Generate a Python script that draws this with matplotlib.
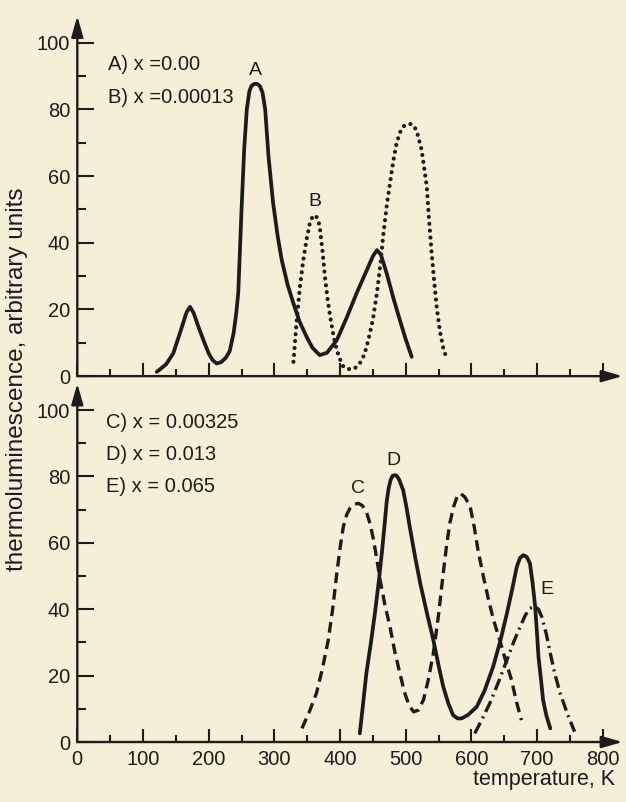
import matplotlib
matplotlib.use("Agg")
import matplotlib.pyplot as plt
from matplotlib.ticker import MultipleLocator

plt.rcParams['font.family'] = ['Liberation Sans', 'DejaVu Sans']

# ---- data (temperature K, TL arbitrary units) ----
A_T = [121, 135, 146, 158, 166, 171.5, 177, 184, 192, 200, 206, 212, 219, 226, 232, 238, 242, 245, 247, 250,
       254, 258, 262, 265, 268, 271, 274, 278, 282, 286, 291, 298, 305, 311, 320, 329, 338, 349, 358, 369, 380, 395,
       410, 425, 440, 450, 456, 462, 471, 481, 491, 500, 509]
A_I = [1.3, 3.5, 6.8, 14, 19, 20.8, 19, 15, 10.8, 6.8, 4.8, 3.8, 4.2, 5.5, 7.5, 13, 19, 25, 35, 50,
       68, 80, 85.5, 87, 87.5, 87.7, 87.6, 87, 85, 80, 66, 52, 42, 35, 27.5, 21.8, 16.5, 11.8, 8.5, 6.3, 7, 10.8,
       17.5, 24.8, 31.5, 36, 37.8, 36.5, 30.8, 23.5, 16.8, 11, 5.8]

B_T = [329, 334, 339, 344, 349, 354, 358, 362, 366, 369, 373, 377, 381, 385, 390, 395, 400, 405, 411, 418,
       424, 430, 437, 443, 450, 456, 461, 466, 471, 476, 481, 486, 492, 498, 503, 508, 513, 518, 524, 528,
       532, 535, 539, 543, 547, 552, 557, 562]
B_I = [4.3, 16.8, 27, 34.8, 41, 45.9, 47.8, 48.3, 47.2, 44.8, 38, 29.8, 23, 17.8, 12, 7.8, 5, 2.8, 2.2, 2,
       2.6, 3.8, 6.5, 10.8, 17, 24.8, 33, 42.8, 51, 57.9, 64.5, 69.9, 73.5, 75.2, 75.6, 75.6, 75, 72.5, 67.9, 62.5,
       56.8, 48, 37.8, 29, 20.8, 13.5, 8.5, 5.3]

C_T = [342, 353, 364, 373, 382, 389, 395, 400, 405, 410, 415, 421, 428, 434, 440, 446, 451, 456, 461, 468,
       476, 483, 491, 498, 505, 512, 519, 527, 534, 542, 550, 557, 562, 567, 573, 578, 583, 590, 598, 604,
       610, 618, 626, 634, 643, 652, 661, 668, 676]
C_I = [4.1, 9, 14.7, 22, 30.7, 40.5, 50.8, 58.5, 64.9, 68.5, 70.4, 71.6, 71.9, 71.2, 69.4, 65.5, 60.8, 55, 48.8, 41.5,
       34.7, 27.5, 20.7, 15, 11, 9.1, 9.6, 12.7, 18.5, 26.7, 38.5, 50.8, 59, 65.9, 71, 73.8, 74.9, 73.8, 70.9, 65,
       57.8, 50, 42.8, 36.5, 30.7, 24.5, 18.7, 12.5, 6.6]

D_T = [430, 435, 440, 447, 453, 459, 464, 468, 471, 474, 477, 480, 484, 487, 490, 496, 501, 506, 514, 522, 532, 542,
       550, 557, 565, 572, 579, 585, 595, 608, 620, 633, 644, 654, 662, 669, 674, 679, 684, 689, 693, 697,
       700, 702, 706, 709, 714, 720]
D_I = [2.6, 11.5, 20.7, 30, 38.8, 48.5, 57.8, 66, 72.5, 76.5, 79, 80.2, 80.4, 80, 79, 75.9, 70.8, 64.9, 56, 47.8, 39, 30.7,
       23, 16.7, 11.5, 8.1, 7.1, 7.1, 8.2, 10.6, 15.5, 22.7, 30.5, 38.8, 46, 52.8, 55.5, 56.3, 55.8, 53.8, 48, 40.7,
       32, 25.7, 18.5, 12.7, 8, 4.1]

E_T = [605, 616, 628, 641, 654, 664, 674, 682, 689, 697, 702, 707, 714, 720, 727, 735, 746, 757]
E_I = [2.6, 6.8, 11.7, 18, 24.7, 30, 34.7, 38.2, 40.3, 40.8, 40, 37.7, 32.5, 26.7, 20.5, 14.7, 8.5, 3.1]

top_legend = ["A) x =0.00", "B) x =0.00013"]
bottom_legend = ["C) x = 0.00325", "D) x = 0.013", "E) x = 0.065"]
curve_letters = {"A": (271, 91.6), "B": (362, 52.3), "C": (428, 76.5), "D": (481, 84.7), "E": (715, 45.8)}

x_ticks = list(range(0, 900, 100))
y_ticks = list(range(0, 120, 20))

# ---- figure ----
BG = '#f6efd8'
INK = '#1c1c1c'
fig = plt.figure(figsize=(6.26, 8.02), dpi=100, facecolor=BG)
ax1 = fig.add_axes([0.1235, 0.531, 0.871, 0.449])
ax2 = fig.add_axes([0.1235, 0.0748, 0.871, 0.447])

for ax in (ax1, ax2):
    ax.set_facecolor(BG)
    ax.set_xlim(0, 830)
    ax.set_ylim(0, 108)
    for s in ax.spines.values():
        s.set_visible(False)
    ax.set_xticks(x_ticks)
    ax.set_yticks(y_ticks)
    ax.xaxis.set_minor_locator(MultipleLocator(50))
    ax.yaxis.set_minor_locator(MultipleLocator(10))
    ax.tick_params(axis='x', which='major', direction='in', length=9.5, width=1.5, color=INK,
                   labelsize=14.5, pad=6, labelcolor=INK)
    ax.tick_params(axis='x', which='minor', direction='in', length=5, width=1.5, color=INK)
    ax.tick_params(axis='y', which='major', direction='in', length=12.5, width=1.5, color=INK,
                   labelsize=14.5, pad=5, labelcolor=INK)
    ax.tick_params(axis='y', which='minor', direction='in', length=6.5, width=1.5, color=INK)
    # axis lines with arrows
    ax.annotate('', xy=(1.0, 0), xytext=(0, 0), xycoords='axes fraction',
                arrowprops=dict(arrowstyle='-|>,head_length=0.7,head_width=0.2', lw=1.7, color=INK,
                                mutation_scale=18, shrinkA=0, shrinkB=0))
    ax.annotate('', xy=(0, 1.0), xytext=(0, 0), xycoords='axes fraction',
                arrowprops=dict(arrowstyle='-|>,head_length=0.7,head_width=0.2', lw=1.7, color=INK,
                                mutation_scale=18, shrinkA=0, shrinkB=0))

ax1.tick_params(axis='x', labelbottom=False)

# ---- curves ----
ax1.plot(A_T, A_I, color=INK, lw=2.7, solid_capstyle='round', solid_joinstyle='round')
ax1.plot(B_T, B_I, color=INK, lw=3.0, linestyle=(0, (0.01, 1.65)), dash_capstyle='round')

ax2.plot(C_T, C_I, color=INK, lw=2.4, linestyle=(0, (3.2, 1.8)), dash_capstyle='butt')
ax2.plot(D_T, D_I, color=INK, lw=2.7, solid_capstyle='round', solid_joinstyle='round')
ax2.plot(E_T, E_I, color=INK, lw=2.4, linestyle=(0, (3.6, 1.5, 0.6, 1.5)), dash_capstyle='butt')

# ---- annotations ----
for i, t in enumerate(top_legend):
    ax1.text(46, 93.4 - 9.8 * i, t, fontsize=14.5, color=INK, ha='left', va='center')
for i, t in enumerate(bottom_legend):
    ax2.text(44, 96.2 - 9.55 * i, t, fontsize=14.5, color=INK, ha='left', va='center')

for k, (tx, ty) in curve_letters.items():
    target = ax1 if k in "AB" else ax2
    target.text(tx, ty, k, fontsize=14, color=INK, ha='center', va='center')

fig.text(615 / 626, 1 - 780 / 802, "temperature, K", fontsize=15.5, color=INK, ha='right', va='center')
fig.text(17 / 626, 1 - 379 / 802, "thermoluminescence, arbitrary units", fontsize=17.5, color=INK,
         rotation=90, ha='center', va='center')

fig.savefig("out.png", dpi=100, facecolor=BG)
